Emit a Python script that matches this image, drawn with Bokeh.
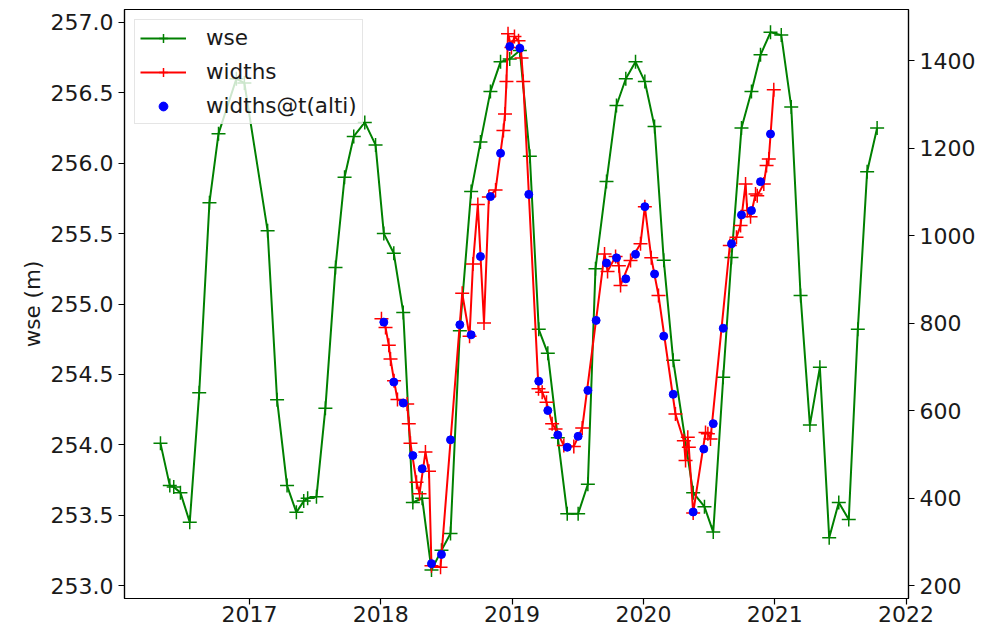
from bokeh.plotting import figure
from bokeh.models import Range1d, LinearAxis, FixedTicker, NumeralTickFormatter, Legend, LegendItem
from bokeh.embed import file_html
from bokeh.resources import INLINE

# ---- data (decimal years) ----
wse_t = [2016.322, 2016.393, 2016.423, 2016.474, 2016.545, 2016.617, 2016.695, 2016.764, 2016.900, 2016.961,
         2017.138, 2017.210, 2017.286, 2017.357, 2017.413, 2017.443, 2017.510, 2017.578, 2017.655, 2017.724,
         2017.794, 2017.878, 2017.960, 2018.023, 2018.099, 2018.171, 2018.244, 2018.315, 2018.386, 2018.462,
         2018.531, 2018.602, 2018.688, 2018.759, 2018.835, 2018.912, 2018.982, 2019.059, 2019.135, 2019.203,
         2019.272, 2019.348, 2019.420, 2019.503, 2019.577, 2019.635, 2019.719, 2019.795, 2019.866, 2019.940,
         2020.011, 2020.085, 2020.155, 2020.227, 2020.379, 2020.465, 2020.532, 2020.608, 2020.671, 2020.747,
         2020.823, 2020.892, 2020.968, 2021.050, 2021.126, 2021.197, 2021.268, 2021.344, 2021.415, 2021.488,
         2021.564, 2021.633, 2021.704, 2021.780]
wse_v = [254.01, 253.71, 253.70, 253.66, 253.45, 254.37, 255.72, 256.21, 256.60, 256.57,
         255.52, 254.32, 253.71, 253.52, 253.60, 253.62, 253.63, 254.26, 255.26, 255.90,
         256.19, 256.29, 256.13, 255.50, 255.36, 254.94, 253.59, 253.62, 253.11, 253.25,
         253.37, 254.81, 255.80, 256.15, 256.51, 256.72, 256.74, 256.80, 256.05, 254.82,
         254.65, 254.05, 253.51, 253.51, 253.72, 255.25, 255.87, 256.41, 256.60, 256.72,
         256.58, 256.26, 255.31, 254.60, 253.66, 253.56, 253.38, 254.48, 255.33, 256.25,
         256.51, 256.77, 256.93, 256.91, 256.40, 255.06, 254.14, 254.55, 253.34, 253.59,
         253.47, 254.82, 255.94, 256.25]

widths_t = [2018.005, 2018.036, 2018.061, 2018.074, 2018.101, 2018.127, 2018.201, 2018.213, 2018.226, 2018.272,
            2018.295, 2018.340, 2018.367, 2018.386, 2018.455, 2018.620, 2018.676, 2018.702, 2018.739, 2018.786,
            2018.823, 2018.874, 2018.934, 2018.946, 2018.957, 2018.969, 2018.995, 2019.018, 2019.049, 2019.072,
            2019.085, 2019.201, 2019.229, 2019.262, 2019.305, 2019.331, 2019.394, 2019.470, 2019.534, 2019.704,
            2019.727, 2019.788, 2019.813, 2019.826, 2019.902, 2019.978, 2020.011, 2020.060, 2020.115, 2020.244,
            2020.308, 2020.321, 2020.338, 2020.346, 2020.379, 2020.473, 2020.491, 2020.511, 2020.658, 2020.709,
            2020.740, 2020.778, 2020.791, 2020.816, 2020.854, 2020.867, 2020.917, 2020.938, 2020.955, 2020.993]
widths_v = [810, 790, 749, 718, 668, 625, 615, 570, 525, 436,
            410, 505, 461, 245, 242, 868, 770, 935, 1071, 800,
            1088, 1104, 1240, 1278, 1352, 1461, 1430, 1455, 1445, 1406,
            1352, 650, 642, 619, 570, 558, 520, 518, 560, 958,
            918, 952, 931, 886, 943, 981, 1066, 949, 863, 592,
            531, 486, 539, 516, 366, 550, 547, 535, 977, 996,
            1023, 1118, 1057, 1043, 1095, 1091, 1118, 1160, 1175, 1333]

alti_t = [2018.023, 2018.099, 2018.171, 2018.244, 2018.315, 2018.386, 2018.462, 2018.531, 2018.602, 2018.688,
          2018.759, 2018.835, 2018.912, 2018.982, 2019.059, 2019.127, 2019.203, 2019.272, 2019.348, 2019.420,
          2019.503, 2019.577, 2019.640, 2019.719, 2019.795, 2019.866, 2019.940, 2020.011, 2020.085, 2020.155,
          2020.227, 2020.379, 2020.460, 2020.532, 2020.608, 2020.671, 2020.747, 2020.823, 2020.892, 2020.968]
alti_w = [802, 665, 617, 497, 467, 250, 271, 533, 796, 773,
          952, 1089, 1188, 1432, 1428, 1094, 667, 600, 544, 516,
          541, 646, 806, 937, 949, 901, 957, 1066, 912, 770,
          637, 368, 512, 570, 788, 981, 1047, 1057, 1123, 1232]

x_ticks = [2017, 2018, 2019, 2020, 2021, 2022]
wse_ticks = [253.0, 253.5, 254.0, 254.5, 255.0, 255.5, 256.0, 256.5, 257.0]
width_ticks = [200, 400, 600, 800, 1000, 1200, 1400]

FONT = "DejaVu Sans"
FS = "22px"
LFS = "21.5px"
TXT = "#1a1a1a"

p = figure(width=982, height=625, output_backend="svg", toolbar_location=None,
           x_range=Range1d(2016.048, 2022.019), y_range=Range1d(252.908, 257.092),
           min_border_left=124, min_border_right=74, min_border_top=9, min_border_bottom=27)
p.extra_y_ranges = {"w": Range1d(170.3, 1516.6)}
p.xgrid.visible = False
p.ygrid.visible = False
p.outline_line_color = "black"
p.outline_line_width = 1.2
p.background_fill_color = "white"
p.border_fill_color = "white"

def style_axis(ax):
    ax.axis_line_color = "black"
    ax.axis_line_width = 1.2
    ax.major_tick_line_color = "black"
    ax.major_tick_line_width = 1.2
    ax.major_tick_out = 6
    ax.major_tick_in = 0
    ax.minor_tick_line_color = None
    ax.major_label_text_font = FONT
    ax.major_label_text_font_size = FS
    ax.major_label_text_color = TXT
    ax.axis_label_text_font = FONT
    ax.axis_label_text_font_size = LFS
    ax.axis_label_text_font_style = "normal"
    ax.axis_label_text_color = TXT

xa = p.xaxis[0]
xa.ticker = FixedTicker(ticks=x_ticks)
xa.formatter = NumeralTickFormatter(format="0")
xa.major_label_standoff = 1
style_axis(xa)

ya = p.yaxis[0]
ya.ticker = FixedTicker(ticks=wse_ticks)
ya.formatter = NumeralTickFormatter(format="0.0")
ya.axis_label = "wse (m)"
ya.axis_label_standoff = 3
ya.major_label_standoff = 5
style_axis(ya)

ra = LinearAxis(y_range_name="w", ticker=FixedTicker(ticks=width_ticks),
                formatter=NumeralTickFormatter(format="0"))
ra.major_label_standoff = 5
style_axis(ra)
p.add_layout(ra, "right")

g_line = p.line(wse_t, wse_v, line_color="green", line_width=2)
g_pts = p.scatter(wse_t, wse_v, marker="cross", size=14, line_color="green", line_width=1.5)
r_line = p.line(widths_t, widths_v, line_color="red", line_width=2, y_range_name="w")
r_pts = p.scatter(widths_t, widths_v, marker="cross", size=14, line_color="red", line_width=1.5, y_range_name="w")
b_pts = p.scatter(alti_t, alti_w, marker="circle", size=8, fill_color="blue", line_color="blue", y_range_name="w")

legend = Legend(items=[
    LegendItem(label="wse", renderers=[g_line, g_pts]),
    LegendItem(label="widths", renderers=[r_line, r_pts]),
    LegendItem(label="widths@t(alti)", renderers=[b_pts]),
], location="top_left")
legend.margin = 10
legend.padding = 5
legend.spacing = 9
legend.glyph_width = 46
legend.glyph_height = 22
legend.label_height = 22
legend.label_standoff = 20
legend.label_text_font = FONT
legend.label_text_font_size = LFS
legend.label_text_color = TXT
legend.border_line_color = "#cccccc"
legend.border_line_width = 1
legend.background_fill_color = "white"
legend.background_fill_alpha = 0.8
p.add_layout(legend)

open("out.html", "w").write(file_html(p, INLINE))
